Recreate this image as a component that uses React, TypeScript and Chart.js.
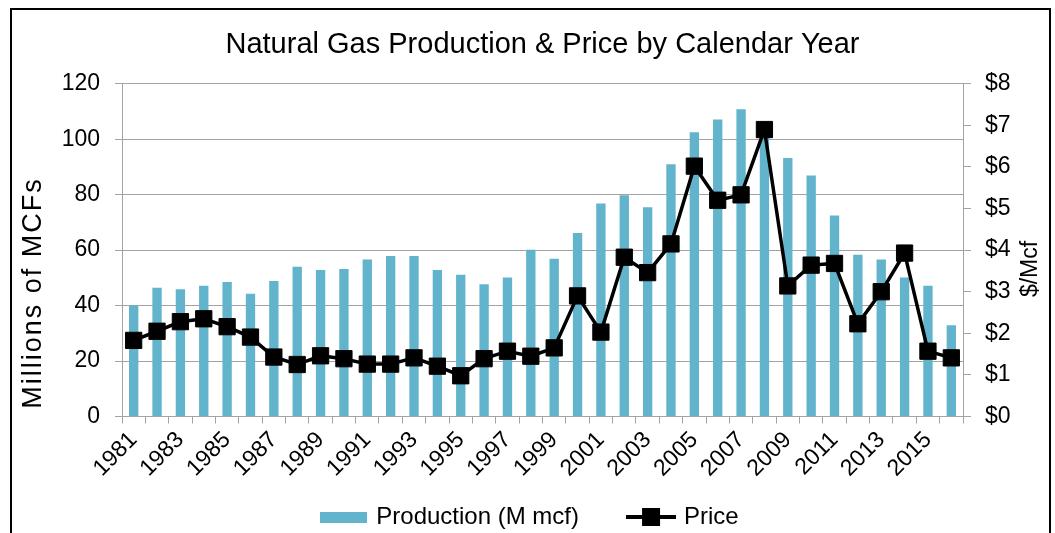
import React, { useEffect, useRef } from "react";
import { Chart, registerables } from "chart.js";

Chart.register(...registerables);

const years: string[] = [
  "1981", "1982", "1983", "1984", "1985", "1986", "1987", "1988", "1989", "1990",
  "1991", "1992", "1993", "1994", "1995", "1996", "1997", "1998", "1999", "2000",
  "2001", "2002", "2003", "2004", "2005", "2006", "2007", "2008", "2009", "2010",
  "2011", "2012", "2013", "2014", "2015", "2016",
];

const production: number[] = [
  40, 46.4, 45.9, 47.2, 48.5, 44.3, 48.9, 54.0, 52.8, 53.2,
  56.6, 57.9, 57.9, 52.8, 51.1, 47.7, 50.1, 60.1, 56.9, 66.2,
  76.8, 79.8, 75.5, 91.0, 102.5, 107.1, 110.8, 104, 93.2, 86.9,
  72.5, 58.3, 56.6, 50.1, 47.2, 32.9,
];

const price: number[] = [
  1.83, 2.05, 2.28, 2.35, 2.16, 1.91, 1.43, 1.25, 1.46, 1.39,
  1.26, 1.26, 1.41, 1.21, 0.98, 1.39, 1.57, 1.45, 1.65, 2.9,
  2.03, 3.83, 3.46, 4.15, 6.02, 5.2, 5.33, 6.9, 3.14, 3.64,
  3.68, 2.23, 3.0, 3.93, 1.57, 1.41,
];

const TITLE = "Natural Gas Production & Price by Calendar Year";
const LEFT_TITLE = "Millions of MCFs";
const RIGHT_TITLE = "$/Mcf";
const PROD_LABEL = "Production (M mcf)";
const PRICE_LABEL = "Price";

const BAR_COLOR = "#62b4cc";
const GRID = "#a3a3a3";
const FONT = "'Liberation Sans', Arial, sans-serif";

export default function App() {
  const ref = useRef<HTMLCanvasElement>(null);

  useEffect(() => {
    const canvas = ref.current!;

    const prodIcon = document.createElement("canvas");
    prodIcon.width = 47;
    prodIcon.height = 11;
    const pc = prodIcon.getContext("2d")!;
    pc.fillStyle = BAR_COLOR;
    pc.fillRect(0, 0, 47, 11);

    const priceIcon = document.createElement("canvas");
    priceIcon.width = 50;
    priceIcon.height = 18;
    const qc = priceIcon.getContext("2d")!;
    qc.fillStyle = "#000";
    qc.fillRect(0, 7, 50, 4);
    qc.fillRect(16, 0, 18, 18);

    const axisTitles = {
      id: "axisTitles",
      afterDraw(chart: any) {
        const ctx = chart.ctx;
        ctx.save();
        ctx.fillStyle = "#000";
        ctx.textAlign = "center";
        ctx.textBaseline = "middle";
        ctx.font = `27px ${FONT}`;
        (ctx as any).letterSpacing = "2px";
        ctx.translate(22, 283);
        ctx.rotate(-Math.PI / 2);
        ctx.fillText(LEFT_TITLE, 0, 0);
        ctx.restore();
        ctx.save();
        ctx.fillStyle = "#000";
        ctx.textAlign = "center";
        ctx.textBaseline = "middle";
        ctx.font = `23px ${FONT}`;
        ctx.translate(1019, 259);
        ctx.rotate(-Math.PI / 2);
        ctx.fillText(RIGHT_TITLE, 0, 0);
        ctx.restore();
      },
    };

    const chart = new Chart(canvas, {
      type: "bar",
      data: {
        labels: years,
        datasets: [
          {
            type: "bar",
            label: PROD_LABEL,
            data: production,
            backgroundColor: BAR_COLOR,
            yAxisID: "y",
            categoryPercentage: 1,
            barPercentage: 0.4,
            order: 1,
          },
          {
            type: "line",
            label: PRICE_LABEL,
            data: price,
            borderColor: "#000",
            backgroundColor: "#000",
            borderWidth: 3.5,
            tension: 0,
            pointStyle: "rect",
            pointRadius: 11.5,
            pointBorderWidth: 1,
            pointBackgroundColor: "#000",
            pointBorderColor: "#000",
            yAxisID: "y1",
            order: 0,
          },
        ],
      },
      options: {
        responsive: false,
        animation: false,
        layout: { padding: { top: 0, left: 0, right: 0, bottom: 11 } },
        plugins: {
          title: {
            display: true,
            fullSize: false,
            text: TITLE,
            color: "#000",
            font: { family: FONT, size: 29, weight: "normal" },
            padding: { top: 18, bottom: 21 },
          },
          legend: {
            position: "bottom",
            labels: {
              usePointStyle: true,
              pointStyleWidth: 42,
              padding: 51,
              color: "#000",
              font: { family: FONT, size: 24 },
              generateLabels: () => [
                {
                  text: PROD_LABEL,
                  pointStyle: prodIcon as any,
                  fillStyle: BAR_COLOR,
                  strokeStyle: BAR_COLOR,
                  lineWidth: 0,
                  hidden: false,
                  datasetIndex: 0,
                },
                {
                  text: PRICE_LABEL,
                  pointStyle: priceIcon as any,
                  fillStyle: "#000",
                  strokeStyle: "#000",
                  lineWidth: 0,
                  hidden: false,
                  datasetIndex: 1,
                },
              ],
            },
          },
          tooltip: { enabled: false },
        },
        scales: {
          x: {
            afterFit: (s: any) => {
              s.height = 37.5;
              s._computeLabelArea = () => undefined;
            },
            grid: {
              drawOnChartArea: false,
              tickLength: 7,
              offset: true,
              color: GRID,
            },
            border: { color: GRID },
            ticks: {
              autoSkip: false,
              maxRotation: 45,
              minRotation: 45,
              color: "#000",
              font: { family: FONT, size: 23 },
              callback: (_v: any, i: number) => (i % 2 === 0 ? years[i] : ""),
            },
          },
          y: {
            position: "left",
            min: 0,
            max: 120,
            afterFit: (s: any) => {
              s.width = 110;
            },
            grid: { color: GRID, tickLength: 7 },
            border: { color: GRID },
            ticks: {
              stepSize: 20,
              padding: 15,
              color: "#000",
              font: { family: FONT, size: 23 },
            },
          },
          y1: {
            position: "right",
            min: 0,
            max: 8,
            afterFit: (s: any) => {
              s.width = 86;
            },
            grid: { drawOnChartArea: false, color: GRID, tickLength: 8 },
            border: { color: GRID },
            ticks: {
              stepSize: 1,
              padding: 14,
              color: "#000",
              font: { family: FONT, size: 23 },
              callback: (v: any) => "$" + v,
            },
          },
        },
      },
      plugins: [axisTitles],
    });

    return () => chart.destroy();
  }, []);

  return (
    <div
      style={{
        position: "fixed",
        left: 10,
        top: 8,
        width: 1037,
        height: 540,
        border: "2px solid #000",
        background: "#fff",
      }}
    >
      <canvas ref={ref} width={1037} height={540} style={{ display: "block" }} />
    </div>
  );
}
